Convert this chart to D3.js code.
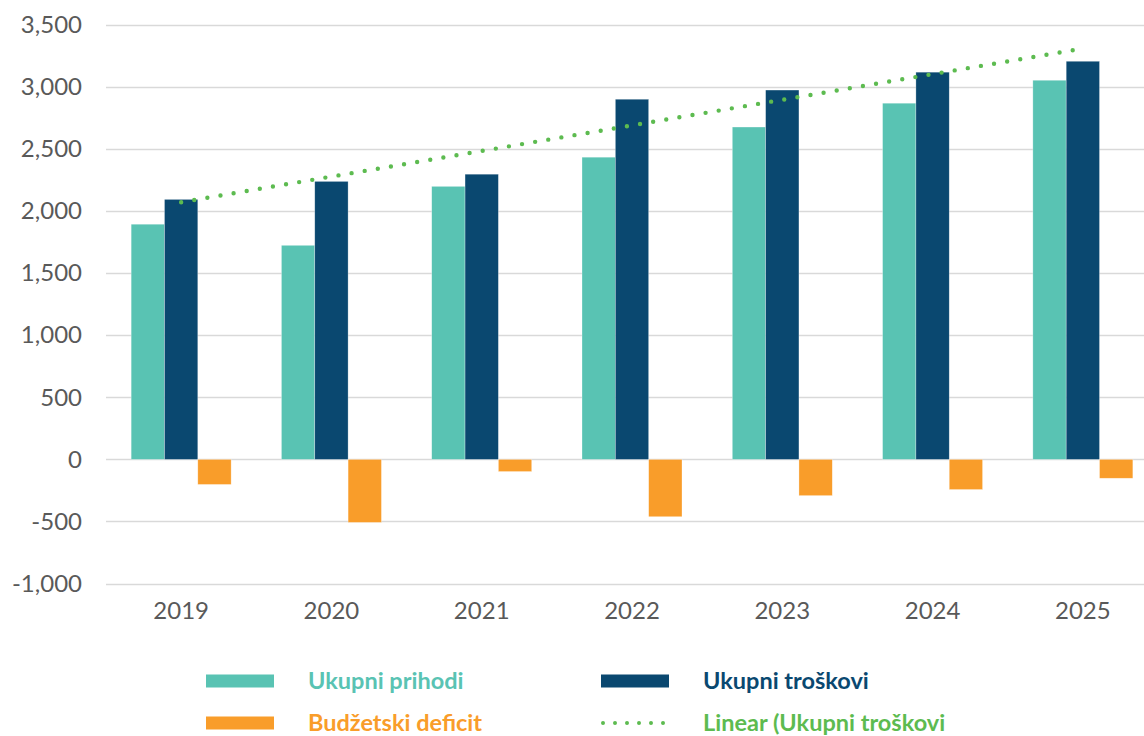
<!DOCTYPE html>
<html>
<head>
<meta charset="utf-8">
<script src="https://cdn.jsdelivr.net/npm/d3@7"></script>
<style>
  body { margin: 0; background: #fff; }
  svg { display: block; font-family: Lato, "Open Sans", sans-serif; }
</style>
</head>
<body>
<div id="chart"></div>
<script>
// Prihodi / troškovi / deficit

const years = ["2019", "2020", "2021", "2022", "2023", "2024", "2025"];
const prihodi = [1895, 1725, 2200, 2435, 2678, 2870, 3055];
const troskovi = [2095, 2240, 2298, 2902, 2976, 3120, 3208];
const deficit = [-202, -508, -98, -462, -292, -243, -152];
const yTicks = [-1000, -500, 0, 500, 1000, 1500, 2000, 2500, 3000, 3500];

const width = 1144,
    height = 736,
    margin = ({ top: 25, right: -14, bottom: 152, left: 106 });

const colors = { prihodi: "#59c3b3", troskovi: "#0a4870", deficit: "#f99d2a", trend: "#5dbb50" };

const fmt = d3.formatLocale({ decimal: ".", thousands: ",", grouping: [3], currency: ["", ""], minus: "-" }).format(",");

const svg = d3.select("#chart")
    .append("svg")
    .attr("width", width)
    .attr("height", height)
    .attr("viewBox", [0, 0, width, height]);

const x = d3.scaleBand()
    .domain(years)
    .range([margin.left, width - margin.right]);

const y = d3.scaleLinear()
    .domain([-1000, 3500])
    .range([height - margin.bottom - 0.5, margin.top]);

// grid lines
svg.append("g")
    .selectAll("line")
    .data(yTicks)
    .join("line")
    .attr("x1", margin.left)
    .attr("x2", width)
    .attr("y1", d => Math.round(y(d)) + 0.5)
    .attr("y2", d => Math.round(y(d)) + 0.5)
    .attr("stroke", "#d9d9d9")
    .attr("stroke-width", 1.5);

// y axis labels
svg.append("g")
    .attr("transform", `translate(82,0)`)
    .call(d3.axisLeft(y).tickValues(yTicks).tickFormat(fmt).tickSize(0).tickPadding(0))
    .call(g => g.select(".domain").remove())
    .call(g => g.selectAll("text")
        .attr("font-size", 24)
        .attr("font-family", "Lato, sans-serif")
        .attr("fill", "#595959"));

// x axis labels
svg.append("g")
    .attr("transform", `translate(0,${y(-1000)})`)
    .call(d3.axisBottom(x).tickSize(0).tickPadding(18))
    .call(g => g.select(".domain").remove())
    .call(g => g.selectAll("text")
        .attr("font-size", 24)
        .attr("font-family", "Lato, sans-serif")
        .attr("fill", "#595959"));

// bars, three per year
const inner = d3.scaleBand()
    .domain(["prihodi", "troskovi", "deficit"])
    .range([0, 100]);

const series = [
    { key: "prihodi", values: prihodi },
    { key: "troskovi", values: troskovi },
    { key: "deficit", values: deficit }
];

const groups = svg.append("g")
    .selectAll("g")
    .data(years)
    .join("g")
    .attr("transform", d => `translate(${x(d) + x.bandwidth() / 2 - 50},0)`);

groups.selectAll("rect")
    .data((d, i) => series.map(s => ({ key: s.key, value: s.values[i] })))
    .join("rect")
    .attr("x", d => inner(d.key))
    .attr("width", inner.bandwidth())
    .attr("y", d => y(Math.max(0, d.value)))
    .attr("height", d => Math.abs(y(d.value) - y(0)))
    .attr("fill", d => colors[d.key])
    .attr("stroke", "#ffffff")
    .attr("stroke-opacity", 0.5)
    .attr("stroke-width", 0.6);

// linear trend of troškovi (least squares, like Excel)
const n = troskovi.length,
    mx = d3.mean(d3.range(n)),
    my = d3.mean(troskovi);
const slope = d3.sum(troskovi, (v, i) => (i - mx) * (v - my)) / d3.sum(d3.range(n), i => (i - mx) ** 2);
const intercept = my - slope * mx;

const trendX = i => x(years[i]) + x.bandwidth() / 2;

svg.append("line")
    .attr("x1", trendX(0))
    .attr("y1", y(intercept))
    .attr("x2", trendX(n - 1))
    .attr("y2", y(intercept + slope * (n - 1)))
    .attr("stroke", colors.trend)
    .attr("stroke-width", 4.4)
    .attr("stroke-linecap", "round")
    .attr("stroke-dasharray", "0 13.3");

// legend
const legend = [
    { label: "Ukupni prihodi", key: "prihodi", x: 206, y: 681 },
    { label: "Ukupni troškovi", key: "troskovi", x: 601, y: 681 },
    { label: "Budžetski deficit", key: "deficit", x: 206, y: 723 },
    { label: "Linear (Ukupni troškovi", key: "trend", x: 601, y: 723 }
];

const lg = svg.append("g")
    .selectAll("g")
    .data(legend)
    .join("g")
    .attr("transform", d => `translate(${d.x},${d.y})`);

lg.filter(d => d.key !== "trend")
    .append("rect")
    .attr("x", 0)
    .attr("y", -6.5)
    .attr("width", 68)
    .attr("height", 13)
    .attr("fill", d => colors[d.key]);

lg.filter(d => d.key === "trend")
    .append("line")
    .attr("x1", 2)
    .attr("x2", 68)
    .attr("y1", 0)
    .attr("y2", 0)
    .attr("stroke", colors.trend)
    .attr("stroke-width", 4)
    .attr("stroke-linecap", "round")
    .attr("stroke-dasharray", "0 12");

lg.append("text")
    .attr("x", 102)
    .attr("y", 0)
    .attr("dy", "0.33em")
    .attr("font-size", 23.5)
    .attr("font-weight", 700)
    .attr("fill", d => colors[d.key])
    .text(d => d.label);
</script>
</body>
</html>
